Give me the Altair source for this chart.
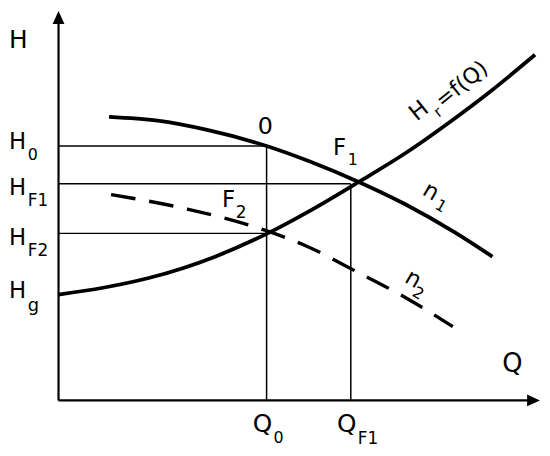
import altair as alt
import pandas as pd

# ---- data ----
# pump curve at speed n1
Q_n1 = [10.2, 20, 30, 42, 51, 60.6, 70, 80, 87.6]
H_n1 = [58.4, 57.6, 55.7, 52.4, 49.1, 45.0, 40.4, 34.6, 29.6]
# pump curve at speed n2 (dashed)
Q_n2 = [10.6, 26, 41.8, 50, 60, 70, 79.6]
H_n2 = [42.4, 39.4, 35.0, 31.8, 26.6, 21.2, 15.2]
# system curve Hr = f(Q)
Q_sys = [0, 9, 18.2, 31.6, 41.8, 51, 60.6, 70, 78.8, 87.5, 96.2]
H_sys = [21.8, 23.2, 25.2, 29.6, 34.2, 39.2, 45.0, 50.9, 57.2, 63.9, 71.2]

Q0, QF1 = 42.0, 59.0
H0, HF1, HF2 = 52.4, 44.6, 34.4
Q_end, H_end = 97.2, 80.2  # axis arrow tips

# labels: left-aligned, alphabetic baseline
lab_text = ["H", "H", "0", "H", "F1", "H", "F2", "H", "g", "0", "F", "1", "F", "2",
            "Q", "0", "Q", "F1", "Q"]
lab_x = [-10.0, -10.0, -6.2, -10.0, -6.2, -10.0, -6.2, -10.0, -6.2, 40.2, 55.4, 58.4, 33.0, 35.8,
         39.2, 43.4, 56.2, 60.4, 89.6]
lab_y = [72.6, 51.8, 49.6, 42.4, 40.0, 32.0, 29.8, 21.0, 18.4, 54.8, 50.6, 48.4, 39.8, 37.6,
         -6.6, -8.8, -6.6, -9.0, 5.8]
lab_size = [25, 23, 16, 23, 17, 23, 17, 23, 18, 24, 23, 16, 23, 17,
            25, 16, 25, 17, 26]

# rotated labels: centred
rot_text = ["n", "1", "n", "2", "H", "r", "=f(Q)"]
rot_x = [75.2, 77.2, 71.6, 72.6, 72.8, 76.6, 81.4]
rot_y = [43.0, 40.0, 25.0, 22.0, 59.6, 59.4, 65.1]
rot_size = [23, 16, 23, 16, 23, 15, 22]
rot_angle = [30, 30, 30, 30, 321, 321, 321]

FONT = "DejaVu Sans"
xs = alt.Scale(domain=[0, 97.6], nice=False, zero=False)
ys = alt.Scale(domain=[0, 80.4], nice=False, zero=False)


def X(f):
    return alt.X(f, type="quantitative", scale=xs, axis=None)


def Y(f):
    return alt.Y(f, type="quantitative", scale=ys, axis=None)


n1_df = pd.DataFrame({"Q": Q_n1, "H": H_n1})
n2_df = pd.DataFrame({"Q": Q_n2, "H": H_n2})
sys_df = pd.DataFrame({"Q": Q_sys, "H": H_sys})

n1 = alt.Chart(n1_df).mark_line(color="black", strokeWidth=3.8, interpolate="monotone").encode(
    x=X("Q"), y=Y("H"))
n2 = alt.Chart(n2_df).mark_line(color="black", strokeWidth=3.4, strokeDash=[25, 14],
                                interpolate="monotone").encode(x=X("Q"), y=Y("H"))
sysc = alt.Chart(sys_df).mark_line(color="black", strokeWidth=3.8, interpolate="monotone").encode(
    x=X("Q"), y=Y("H"))

ref_df = pd.DataFrame({
    "x": [0, 0, 0, Q0, QF1],
    "x2": [Q0, QF1, Q0, Q0, QF1],
    "y": [H0, HF1, HF2, 0, 0],
    "y2": [H0, HF1, HF2, H0, HF1],
})
refs = alt.Chart(ref_df).mark_rule(color="black", strokeWidth=1.5).encode(
    x=X("x"), x2="x2", y=Y("y"), y2="y2")

axes_df = pd.DataFrame({"x": [0, 0], "x2": [Q_end - 1, 0], "y": [0, 0], "y2": [0, H_end - 1]})
axes = alt.Chart(axes_df).mark_rule(color="black", strokeWidth=2.2).encode(
    x=X("x"), x2="x2", y=Y("y"), y2="y2")

up_arrow = alt.Chart(pd.DataFrame({"x": [0], "y": [H_end]})).mark_point(
    shape="M0,0L0.92,2L-0.92,2Z", size=169, filled=True, color="black", opacity=1
).encode(x=X("x"), y=Y("y"))
right_arrow = alt.Chart(pd.DataFrame({"x": [Q_end], "y": [0]})).mark_point(
    shape="M0,0L-2,-0.92L-2,0.92Z", size=169, filled=True, color="black", opacity=1
).encode(x=X("x"), y=Y("y"))

lab_df = pd.DataFrame({"x": lab_x, "y": lab_y, "t": lab_text, "s": lab_size})
labels = alt.Chart(lab_df).mark_text(align="left", baseline="alphabetic", font=FONT,
                                     color="black").encode(
    x=X("x"), y=Y("y"), text="t:N", size=alt.Size("s:Q", scale=None))

rot_df = pd.DataFrame({"x": rot_x, "y": rot_y, "t": rot_text, "s": rot_size, "a": rot_angle})
rlabels = alt.Chart(rot_df).mark_text(align="center", baseline="middle", font=FONT,
                                      color="black").encode(
    x=X("x"), y=Y("y"), text="t:N", size=alt.Size("s:Q", scale=None),
    angle=alt.Angle("a:Q", scale=None))

chart = alt.layer(refs, axes, up_arrow, right_arrow, n1, n2, sysc, labels, rlabels).properties(
    width=488, height=394,
    padding={"left": 51, "top": 0, "right": 0, "bottom": 46},
    autosize=alt.AutoSizeParams(type="none"),
    background="white",
).configure_view(stroke=None)

chart.save("out.html", embed_options={"renderer": "svg", "actions": False})
